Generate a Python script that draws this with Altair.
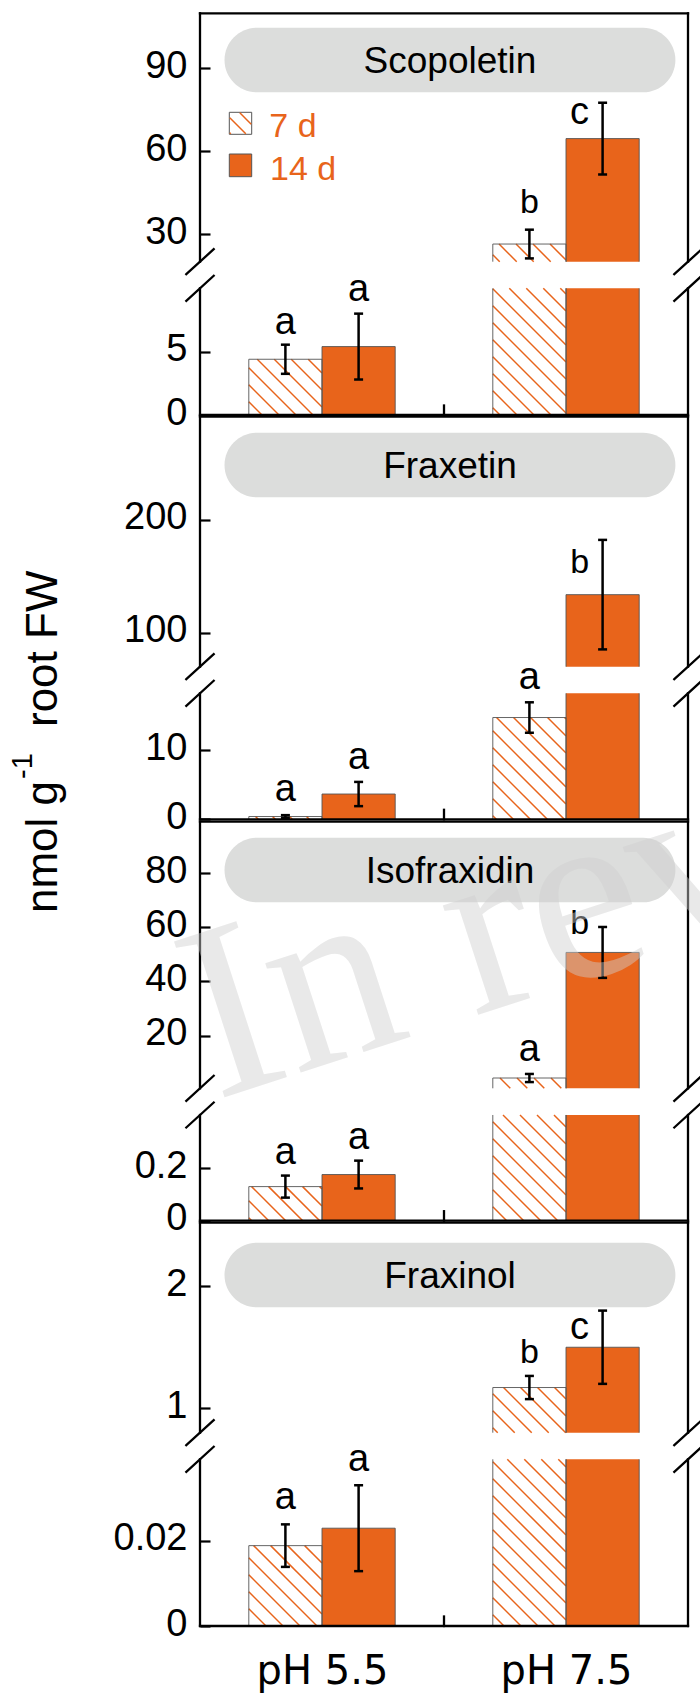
import altair as alt
import numpy as np
import pandas as pd

# ------------------------------------------------------------------ data
compounds = ["Scopoletin", "Fraxetin", "Isofraxidin", "Fraxinol"]
groups = ["pH 5.5", "pH 7.5"]
periods = ["7 d", "14 d"]
# bar order: pH 5.5 / 7 d, pH 5.5 / 14 d, pH 7.5 / 7 d, pH 7.5 / 14 d
scopoletin_mean = [4.4, 5.4, 26.4, 64.6]
scopoletin_err = [1.15, 2.6, 5.2, 13.0]
scopoletin_letters = ["a", "a", "b", "c"]
scopoletin_letter_y = [7.26, 9.87, 41.7, 73.9]

fraxetin_mean = [0.4, 3.65, 14.7, 133.7]
fraxetin_err = [0.2, 1.75, 2.2, 48.4]
fraxetin_letters = ["a", "a", "a", "b"]
fraxetin_letter_y = [4.23, 8.81, 20.4, 162.8]

isofraxidin_mean = [0.13, 0.176, 4.3, 50.7]
isofraxidin_err = [0.042, 0.053, 1.5, 9.4]
isofraxidin_letters = ["a", "a", "a", "b"]
isofraxidin_letter_y = [0.257, 0.314, 14.6, 61.5]

fraxinol_mean = [0.0189, 0.023, 1.17, 1.50]
fraxinol_err = [0.005, 0.0101, 0.095, 0.30]
fraxinol_letters = ["a", "a", "b", "c"]
fraxinol_letter_y = [0.0300, 0.0389, 1.463, 1.655]

# broken y axes: lower / upper segment domains and tick values
scopoletin_lower, scopoletin_upper = [0, 10], [20, 110]
scopoletin_lower_ticks, scopoletin_upper_ticks = [0, 5], [30, 60, 90]
fraxetin_lower, fraxetin_upper = [0, 18.2], [70, 291]
fraxetin_lower_ticks, fraxetin_upper_ticks = [0, 10], [100, 200]
isofraxidin_lower, isofraxidin_upper = [0, 0.403], [0.5, 99]
isofraxidin_lower_ticks, isofraxidin_upper_ticks = [0, 0.2], [20, 40, 60, 80]
fraxinol_lower, fraxinol_upper = [0, 0.0392], [0.8, 2.52]
fraxinol_lower_ticks, fraxinol_upper_ticks = [0, 0.02], [1, 2]

y_title = ["nmol g", "-1", "root FW"]
watermark = "In review"

# ------------------------------------------------------------------ layout / style
PAD_L, PAD_T = 200, 13
W, H = 488, 1613
XPX = W / 2.0
ORANGE = "#E8641B"
FONT = "Liberation Sans"
CAP = 4.5 / XPX
LETTER_DX = [0, 0, 0, -23]

panel_top = [13.3, 416.7, 821.7, 1222.7]
panel_ub = [261.7, 666.7, 1088.3, 1432.7]
panel_lt = [288.3, 693.3, 1115.0, 1459.3]
panel_bot = [415.0, 819.3, 1220.7, 1626.0]
strip_top = [27.7, 432.7, 837.7, 1242.7]
STRIP_H = 64.6


def rel(y):
    return y - PAD_T


xsc = alt.Scale(domain=[0, 2], range=[0, W], nice=False, zero=False)
label_expr = "['" + "','".join(groups) + "'][round(datum.value - 0.5)]"
XAXIS = alt.Axis(orient="bottom", values=[0.5, 1.5], labelExpr=label_expr, ticks=False,
                 domain=False, grid=False, labelFont="DejaVu Sans", labelFontSize=40,
                 labelColor="black", labelPadding=57, labelBaseline="alphabetic",
                 labelFlush=False, labelOverlap=False, title=None)


def hatch_px(xa, xb, ya, yb, s=17.0):
    out = []
    kmin = int(np.floor((ya - xb) / s)) - 1
    kmax = int(np.ceil((yb - xa) / s)) + 1
    for k in range(kmin, kmax + 1):
        c = k * s
        xs = max(xa, ya - c)
        xe = min(xb, yb - c)
        if xe - xs > 0.8:
            out.append((xs, xs + c, xe, xe + c))
    return out


def segment(mean, err, letters, ly, in_seg, dom, r_top, r_bot, ticks):
    lo, hi = dom
    ysc = alt.Scale(domain=[lo, hi], range=[r_bot, r_top], nice=False, zero=False)
    yaxis = alt.Axis(orient="left", values=ticks, labelExpr="'' + datum.value", offset=-10,
                     tickSize=10, tickWidth=2.2, tickColor="black", domain=False, grid=False,
                     labelFont=FONT, labelFontSize=38, labelColor="black", labelPadding=13,
                     labelOffset=-2, labelOverlap=False, labelFlush=False, title=None)
    k = (r_bot - r_top) / (hi - lo)

    def v2p(v):
        return r_bot - (v - lo) * k

    def p2v(p):
        return lo + (r_bot - p) / k

    X = alt.X("x:Q", scale=xsc, axis=XAXIS)
    Y = alt.Y("y:Q", scale=ysc, axis=yaxis)

    bars, hatch, edges, errs, caps, txt = [], [], [], [], [], []
    for i in range(4):
        g, p = divmod(i, 2)
        m, e = mean[i], err[i]
        x0 = g + 0.2 + 0.3 * p
        x1 = x0 + 0.3
        xc = x0 + 0.15
        if m > lo:
            b0, b1 = max(lo, 0.0), min(m, hi)
            bars.append(dict(x=x0, x2=x1, y=b0, y2=b1, period=periods[p]))
            edges.append(dict(x=x0, x2=x0, y=b0, y2=b1))
            edges.append(dict(x=x1, x2=x1, y=b0, y2=b1))
            if m <= hi:
                edges.append(dict(x=x0, x2=x1, y=m, y2=m))
            if p == 0:
                for (xa, ya, xb, yb) in hatch_px(x0 * XPX, x1 * XPX, v2p(b1), v2p(b0)):
                    hatch.append(dict(x=xa / XPX, y=p2v(ya), x2=xb / XPX, y2=p2v(yb)))
        if lo <= m <= hi:
            errs.append(dict(x=xc, y=m - e, y2=m + e))
            for v in (m - e, m + e):
                caps.append(dict(x=xc - CAP, x2=xc + CAP, y=v))
        if in_seg(ly[i]):
            txt.append(dict(x=xc + LETTER_DX[i] / XPX, y=ly[i], t=letters[i],
                            fs=34 if letters[i] == "b" else 38))

    layers = [
        alt.Chart(pd.DataFrame(bars)).mark_rect().encode(
            x=X, x2="x2:Q", y=Y, y2="y2:Q",
            color=alt.Color("period:N", scale=alt.Scale(domain=periods, range=["white", ORANGE]),
                            legend=None))
    ]
    if hatch:
        layers.append(alt.Chart(pd.DataFrame(hatch)).mark_rule(color=ORANGE, strokeWidth=1.5).encode(
            x=X, x2="x2:Q", y=Y, y2="y2:Q"))
    layers.append(alt.Chart(pd.DataFrame(edges)).mark_rule(color="#555555", strokeWidth=0.9).encode(
        x=X, x2="x2:Q", y=Y, y2="y2:Q"))
    if errs:
        layers.append(alt.Chart(pd.DataFrame(errs)).mark_rule(color="black", strokeWidth=2.5).encode(
            x=X, y=Y, y2="y2:Q"))
        layers.append(alt.Chart(pd.DataFrame(caps)).mark_rule(color="black", strokeWidth=2.5).encode(
            x=X, x2="x2:Q", y=Y))
    if txt:
        layers.append(alt.Chart(pd.DataFrame(txt)).mark_text(
            font=FONT, color="black", align="center", baseline="alphabetic", dy=10.8).encode(
            x=X, y=Y, text="t:N", size=alt.Size("fs:Q", scale=None)))
    return alt.layer(*layers)


panels = [
    (scopoletin_mean, scopoletin_err, scopoletin_letters, scopoletin_letter_y,
     scopoletin_lower, scopoletin_upper, scopoletin_lower_ticks, scopoletin_upper_ticks),
    (fraxetin_mean, fraxetin_err, fraxetin_letters, fraxetin_letter_y,
     fraxetin_lower, fraxetin_upper, fraxetin_lower_ticks, fraxetin_upper_ticks),
    (isofraxidin_mean, isofraxidin_err, isofraxidin_letters, isofraxidin_letter_y,
     isofraxidin_lower, isofraxidin_upper, isofraxidin_lower_ticks, isofraxidin_upper_ticks),
    (fraxinol_mean, fraxinol_err, fraxinol_letters, fraxinol_letter_y,
     fraxinol_lower, fraxinol_upper, fraxinol_lower_ticks, fraxinol_upper_ticks),
]

strip_rows, strip_txt = [], []
layers = []
for j, (mean, err, letters, ly, lower, upper, lt_ticks, up_ticks) in enumerate(panels):
    st = rel(strip_top[j])
    strip_rows.append(dict(x=24.5, x2=475.4, y=st, y2=st + STRIP_H))
    strip_txt.append(dict(x=250, y=st + STRIP_H / 2 + 13.3, t=compounds[j]))
    up_lo = upper[0]
    layers.append(segment(mean, err, letters, ly, lambda v, a=up_lo: v >= a, upper,
                          rel(panel_top[j]), rel(panel_ub[j]), up_ticks))
    layers.append(segment(mean, err, letters, ly, lambda v, a=up_lo: v < a, lower,
                          rel(panel_lt[j]), rel(panel_bot[j]), lt_ticks))

# strips (behind)
strip_layer = alt.Chart(pd.DataFrame(strip_rows)).mark_rect(cornerRadius=32.3, color="#DCDDDC").encode(
    x=alt.X("x:Q", scale=None), x2="x2:Q", y=alt.Y("y:Q", scale=None), y2="y2:Q")
strip_text = alt.Chart(pd.DataFrame(strip_txt)).mark_text(
    font=FONT, fontSize=37, color="black", align="center", baseline="alphabetic").encode(
    x=alt.X("x:Q", scale=None), y=alt.Y("y:Q", scale=None), text="t:N")

# frame, break marks, centre tick
frame = []
for j in range(4):
    t, ub, lt, b = rel(panel_top[j]), rel(panel_ub[j]), rel(panel_lt[j]), rel(panel_bot[j])
    frame += [dict(x=0, y=t, x2=W, y2=t), dict(x=0, y=b, x2=W, y2=b),
              dict(x=0, y=t, x2=0, y2=ub), dict(x=0, y=lt, x2=0, y2=b),
              dict(x=W, y=t, x2=W, y2=ub), dict(x=W, y=lt, x2=W, y2=b),
              dict(x=W / 2, y=b - 9.5, x2=W / 2, y2=b)]
    for XX in (0, W):
        for YY in (ub, lt):
            frame.append(dict(x=XX - 13.7, y=YY + 12.5, x2=XX + 13.7, y2=YY - 12.5))
frame_layer = alt.Chart(pd.DataFrame(frame)).mark_rule(color="black", strokeWidth=2.3, strokeCap="square").encode(
    x=alt.X("x:Q", scale=None), x2="x2:Q", y=alt.Y("y:Q", scale=None), y2="y2:Q")

# legend
leg_box = [dict(x=29.3, x2=51.7, y=99.3, y2=121.3, f="white"),
           dict(x=29.3, x2=51.7, y=141.0, y2=163.7, f=ORANGE)]
leg_rect = alt.Chart(pd.DataFrame(leg_box)).mark_rect(stroke="#555555", strokeWidth=1).encode(
    x=alt.X("x:Q", scale=None), x2="x2:Q", y=alt.Y("y:Q", scale=None), y2="y2:Q",
    color=alt.Color("f:N", scale=None))
leg_h = [dict(x=a, y=b, x2=c, y2=d) for (a, b, c, d) in hatch_px(29.8, 51.2, 99.8, 120.8, s=15)]
leg_hatch = alt.Chart(pd.DataFrame(leg_h)).mark_rule(color=ORANGE, strokeWidth=1.5).encode(
    x=alt.X("x:Q", scale=None), x2="x2:Q", y=alt.Y("y:Q", scale=None), y2="y2:Q")
leg_txt = alt.Chart(pd.DataFrame([dict(x=69.3, y=123.7, t=periods[0]),
                                  dict(x=70.0, y=167.0, t=periods[1])])).mark_text(
    font=FONT, fontSize=34, color=ORANGE, align="left", baseline="alphabetic").encode(
    x=alt.X("x:Q", scale=None), y=alt.Y("y:Q", scale=None), text="t:N")

# y title (rotated, with superscript)
title_rows = [dict(x=57 - PAD_L, y=rel(913), t=y_title[0], fs=44),
              dict(x=32 - PAD_L, y=rel(779), t=y_title[1], fs=29),
              dict(x=57 - PAD_L, y=rel(727), t=y_title[2], fs=44)]
title_layer = alt.Chart(pd.DataFrame(title_rows)).mark_text(
    font=FONT, color="black", angle=270, align="left", baseline="alphabetic").encode(
    x=alt.X("x:Q", scale=None), y=alt.Y("y:Q", scale=None), text="t:N",
    size=alt.Size("fs:Q", scale=None))

wm = alt.Chart(pd.DataFrame([dict(x=16, y=rel(1100), t=watermark)])).mark_text(
    font="Liberation Serif", fontSize=250, angle=342, color="#cfcfcf", opacity=0.45,
    align="left", baseline="alphabetic").encode(
    x=alt.X("x:Q", scale=None), y=alt.Y("y:Q", scale=None), text="t:N")

chart = alt.layer(strip_layer, *layers, frame_layer, strip_text, leg_rect, leg_hatch, leg_txt,
                  title_layer, wm).resolve_scale(y="independent").resolve_axis(y="independent").properties(
    width=W, height=H,
    autosize=alt.AutoSizeParams(type="none"),
    padding={"left": PAD_L, "top": PAD_T, "right": 700 - PAD_L - W, "bottom": 1696 - PAD_T - H},
).configure_view(stroke=None)

chart.save("out.html", embed_options={"renderer": "svg", "actions": False})
